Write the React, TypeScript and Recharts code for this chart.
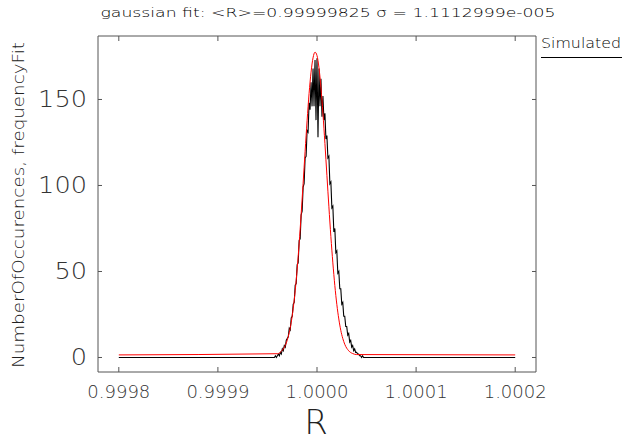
import { Line, LineChart, XAxis, YAxis } from 'recharts';

const xTicks = [0.9998, 0.9999, 1.0, 1.0001, 1.0002];
const yTicks = [0, 50, 100, 150];

// gaussian fit curve
const fitR = [
  0.9998, 0.99996, 0.999964, 0.999968, 0.99997, 0.999972, 0.999974, 0.999976, 0.999978,
  0.99998, 0.999982, 0.999984, 0.999986, 0.999988, 0.99999, 0.999992, 0.999994, 0.999996,
  0.999998, 1.0, 1.000002, 1.000004, 1.000006, 1.000008, 1.00001, 1.000012, 1.000014,
  1.000016, 1.000018, 1.00002, 1.000022, 1.000024, 1.000026, 1.000028, 1.000032, 1.000036,
  1.00004, 1.0002,
];
const fitValues = [
  1.5, 2.2, 3.6, 7.0, 10.1, 14.5, 20.5, 28.6, 38.8, 51.5, 66.4, 83.2, 101.3, 119.8, 137.6,
  153.4, 165.9, 174.2, 177.5, 175.5, 168.4, 156.8, 141.8, 124.4, 105.9, 87.6, 70.3, 55.0,
  41.8, 30.9, 22.4, 15.8, 11.1, 7.7, 3.9, 2.3, 1.7, 1.5,
];

// simulated histogram: bins of 1e-6 starting at 0.999956, zero elsewhere
const simRangeStart = 0.9998;
const simRangeEnd = 1.0002;
const simBinStart = 0.999956;
const simBinWidth = 0.000001;
const simCounts = [
  0, 0, 1, 0, 1, 2, 1, 3, 2, 5, 4, 7, 6, 10, 11, 12, 17, 16, 23, 24, 31, 32, 42, 43, 54, 55,
  68, 69, 83, 85, 99, 101, 116, 117, 132, 131, 148, 144, 160, 146, 168, 146, 173, 138,
  174, 128, 168, 146, 162, 140, 152, 138, 142, 127, 129, 116, 117, 101, 102, 87, 88, 73,
  75, 61, 62, 49, 50, 40, 40, 31, 32, 24, 24, 18, 18, 13, 14, 9, 10, 6, 7, 4, 5, 3, 3, 2,
  2, 1, 1, 0, 1, 0,
];

const fitData = fitR.map((r, i) => ({ r, v: fitValues[i] }));
const simData = [
  { r: simRangeStart, v: 0 },
  ...simCounts.map((v, i) => ({ r: simBinStart + i * simBinWidth, v })),
  { r: simRangeEnd, v: 0 },
];

const font = '"DejaVu Sans", sans-serif';
const axisColor = '#555';

const BottomTick = (props: any) => {
  const { x, y, payload } = props;
  return (
    <g>
      <line x1={x} x2={x} y1={y} y2={y - 5} stroke={axisColor} />
      <text
        x={x}
        y={y + 26}
        textAnchor="middle"
        fontSize={17}
        fontFamily={font}
        fontWeight={200}
        fill="#333"
        textLength={63}
        lengthAdjust="spacingAndGlyphs"
      >
        {payload.value.toFixed(4)}
      </text>
    </g>
  );
};

const TopTick = (props: any) => {
  const { x, y } = props;
  return <line x1={x} x2={x} y1={y} y2={y + 5} stroke={axisColor} />;
};

const LeftTick = (props: any) => {
  const { x, y, payload } = props;
  const label = String(payload.value);
  return (
    <g>
      <line x1={x} x2={x + 4} y1={y} y2={y} stroke={axisColor} />
      <text
        x={x - 11}
        y={y + 8}
        textAnchor="end"
        fontSize={23}
        fontFamily={font}
        fontWeight={200}
        fill="#333"
        textLength={label.length * 16.3}
        lengthAdjust="spacingAndGlyphs"
      >
        {label}
      </text>
    </g>
  );
};

const RightTick = (props: any) => {
  const { x, y } = props;
  return <line x1={x} x2={x - 4} y1={y} y2={y} stroke={axisColor} />;
};

export default function App() {
  return (
    <div style={{ position: 'absolute', left: 0, top: 0, width: 623, height: 443, background: '#fff' }}>
      <LineChart
        width={623}
        height={443}
        margin={{ top: 31, right: 82, bottom: 41, left: 38 }}
      >
        <XAxis
          xAxisId="b"
          dataKey="r"
          type="number"
          domain={[0.999779, 1.000221]}
          allowDataOverflow
          ticks={xTicks}
          tick={<BottomTick />}
          tickLine={false}
          tickSize={0}
          tickMargin={0}
          height={30}
          axisLine={{ stroke: axisColor }}
        />
        <XAxis
          xAxisId="t"
          orientation="top"
          dataKey="r"
          type="number"
          domain={[0.999779, 1.000221]}
          allowDataOverflow
          ticks={xTicks}
          tick={<TopTick />}
          tickLine={false}
          tickSize={0}
          tickMargin={0}
          height={5}
          axisLine={{ stroke: axisColor }}
        />
        <YAxis
          yAxisId="l"
          type="number"
          domain={[-8.43, 186.9]}
          allowDataOverflow
          ticks={yTicks}
          tick={<LeftTick />}
          tickLine={false}
          tickSize={0}
          tickMargin={0}
          width={60}
          axisLine={{ stroke: axisColor }}
        />
        <YAxis
          yAxisId="rt"
          orientation="right"
          type="number"
          domain={[-8.43, 186.9]}
          allowDataOverflow
          ticks={yTicks}
          tick={<RightTick />}
          tickLine={false}
          tickSize={0}
          tickMargin={0}
          width={5}
          axisLine={{ stroke: axisColor }}
        />
        <Line
          xAxisId="b"
          yAxisId="l"
          data={simData}
          dataKey="v"
          type="linear"
          stroke="#000"
          strokeWidth={1.1}
          dot={false}
          isAnimationActive={false}
        />
        <Line
          xAxisId="b"
          yAxisId="l"
          data={fitData}
          dataKey="v"
          type="monotone"
          stroke="#ff0000"
          strokeWidth={1}
          dot={false}
          isAnimationActive={false}
        />
      </LineChart>
      <svg
        width={623}
        height={443}
        style={{ position: 'absolute', left: 0, top: 0, pointerEvents: 'none' }}
      >
        <text
          x={328}
          y={17}
          textAnchor="middle"
          fontSize={13}
          fontFamily={font}
          fontWeight={200}
          fill="#000"
          textLength={455}
          lengthAdjust="spacingAndGlyphs"
        >
          gaussian fit: &lt;R&gt;=0.99999825 σ = 1.1112999e-005
        </text>
        <text
          transform="translate(24,205) rotate(-90)"
          textAnchor="middle"
          fontSize={15}
          fontFamily={font}
          fontWeight={200}
          fill="#222"
          textLength={326}
          lengthAdjust="spacingAndGlyphs"
        >
          NumberOfOccurences, frequencyFit
        </text>
        <text
          x={316}
          y={434}
          textAnchor="middle"
          fontSize={34}
          fontFamily={font}
          fontWeight={200}
          fill="#222"
        >
          R
        </text>
        <text
          x={541}
          y={48}
          fontSize={14}
          fontFamily={font}
          fontWeight={200}
          fill="#000"
          textLength={80}
          lengthAdjust="spacingAndGlyphs"
        >
          Simulated
        </text>
        <line x1={541} x2={622} y1={57.5} y2={57.5} stroke="#000" strokeWidth={1} />
      </svg>
    </div>
  );
}
